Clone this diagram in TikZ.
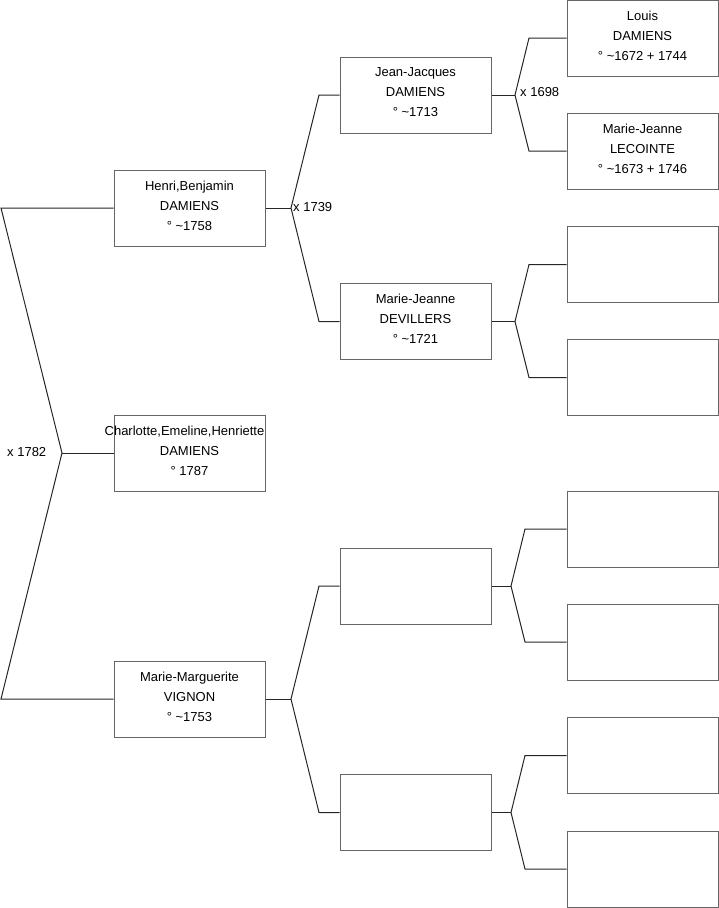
\documentclass[tikz,border=0pt]{standalone}
\usepackage{fontspec}
\setmainfont{Liberation Sans}
\begin{document}
\begin{tikzpicture}[x=1pt,y=-1pt,
  person/.style={draw=black!60, line width=1pt, fill=white, minimum width=151pt, minimum height=76pt, inner sep=0pt, text depth=5pt, align=center, font=\fontsize{13}{20}\selectfont},
  conn/.style={draw=black!85, line width=1pt},
  lbl/.style={font=\fontsize{13}{15}\selectfont, inner sep=0pt, anchor=west}]
\useasboundingbox (0,0) rectangle (719,908);
% generation 1
\node[person] (H) at (189.5,208) {Henri,Benjamin\\DAMIENS\\° \textasciitilde 1758};
\node[person] (C) at (189.5,453) {\makebox[140pt][c]{Charlotte,Emeline,Henriette}\hspace*{10pt}\\DAMIENS\\° 1787};
\node[person] (M) at (189.5,699) {Marie-Marguerite\\VIGNON\\° \textasciitilde 1753};
% generation 2
\node[person] (JJ) at (415.5,95) {Jean-Jacques\\DAMIENS\\° \textasciitilde 1713};
\node[person] (MJD) at (415.5,321.5) {Marie-Jeanne\\DEVILLERS\\° \textasciitilde 1721};
\node[person] (E1) at (415.5,586) {};
\node[person] (E2) at (415.5,812.5) {};
% generation 3
\node[person] (L) at (642.5,38) {Louis\\DAMIENS\\° \textasciitilde 1672 + 1744};
\node[person] (MJL) at (642.5,151) {Marie-Jeanne\\LECOINTE\\° \textasciitilde 1673 + 1746};
\node[person] (R1) at (642.5,264.5) {};
\node[person] (R2) at (642.5,377.5) {};
\node[person] (R3) at (642.5,529) {};
\node[person] (R4) at (642.5,642) {};
\node[person] (R5) at (642.5,755.5) {};
\node[person] (R6) at (642.5,869) {};
% left fork
\coordinate (a1) at (1,208);
\coordinate (a2) at (62,453);
\coordinate (a3) at (1,699);
\draw[conn] (H.west) -- (a1) -- (a2) -- (a3) -- (M.west);
\draw[conn] (a2) -- (C.west);
\node[lbl] (x1782) at (7,452) {x 1782};
% Henri fork
\coordinate (h0) at (291,208);
\coordinate (h1) at (319,95);
\coordinate (h2) at (319,321.5);
\draw[conn] (H.east) -- (h0);
\draw[conn] (JJ.west) -- (h1) -- (h0) -- (h2) -- (MJD.west);
\node[lbl] (x1739) at (293,207) {x 1739};
% Marie-Marguerite fork
\coordinate (m0) at (291,699);
\coordinate (m1) at (319,586);
\coordinate (m2) at (319,812.5);
\draw[conn] (M.east) -- (m0);
\draw[conn] (E1.west) -- (m1) -- (m0) -- (m2) -- (E2.west);
% Jean-Jacques fork
\coordinate (j0) at (515,95);
\coordinate (j1) at (529,38);
\coordinate (j2) at (529,151);
\draw[conn] (JJ.east) -- (j0);
\draw[conn] (L.west) -- (j1) -- (j0) -- (j2) -- (MJL.west);
\node[lbl] (x1698) at (520,92) {x 1698};
% Devillers fork
\coordinate (d0) at (515,321.5);
\coordinate (d1) at (529,264.5);
\coordinate (d2) at (529,377.5);
\draw[conn] (MJD.east) -- (d0);
\draw[conn] (R1.west) -- (d1) -- (d0) -- (d2) -- (R2.west);
% E1 fork
\coordinate (e0) at (511,586);
\coordinate (e1) at (525,529);
\coordinate (e2) at (525,642);
\draw[conn] (E1.east) -- (e0);
\draw[conn] (R3.west) -- (e1) -- (e0) -- (e2) -- (R4.west);
% E2 fork
\coordinate (f0) at (511,812.5);
\coordinate (f1) at (525,755.5);
\coordinate (f2) at (525,869);
\draw[conn] (E2.east) -- (f0);
\draw[conn] (R5.west) -- (f1) -- (f0) -- (f2) -- (R6.west);
\end{tikzpicture}
\end{document}
